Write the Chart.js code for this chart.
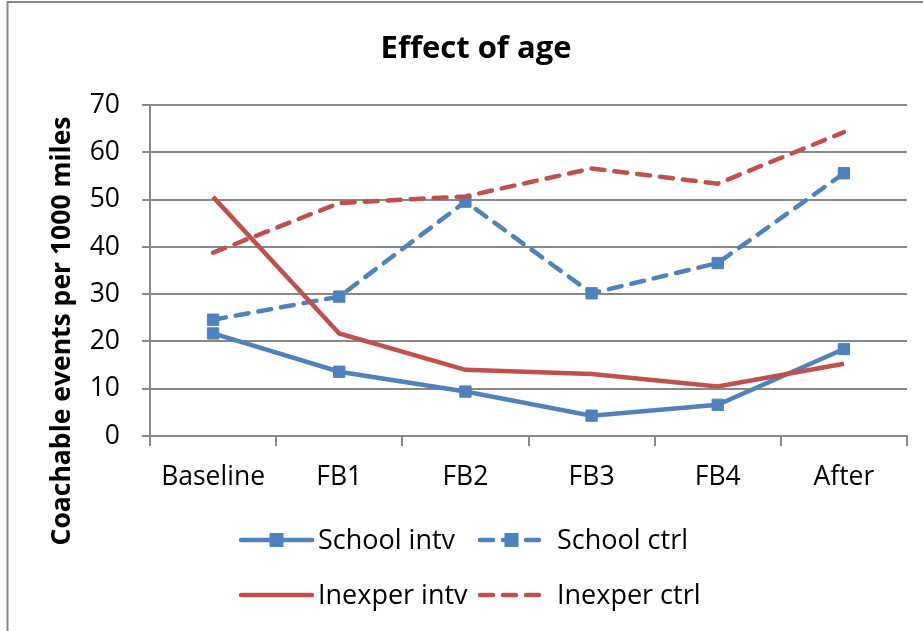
<!DOCTYPE html>
<html lang="en">
<head>
<meta charset="UTF-8">
<title>Effect of age</title>
<script src="https://cdn.jsdelivr.net/npm/chart.js"></script>
<style>
  html, body { margin: 0; padding: 0; background: #fff; }
  canvas { display: block; }
</style>
</head>
<body>
<canvas id="ageChart" width="923" height="631"></canvas>
<script>
  // values (events per 1000 miles)
  const phases = ['Baseline', 'FB1', 'FB2', 'FB3', 'FB4', 'After'];
  const schoolIntv = [21.7, 13.6, 9.4, 4.3, 6.6, 18.4];
  const schoolCtrl = [24.6, 29.5, 49.6, 30.2, 36.6, 55.6];
  const inexperIntv = [50.6, 21.7, 14.0, 13.1, 10.5, 15.3];
  const inexperCtrl = [38.8, 49.3, 50.7, 56.6, 53.4, 64.3];
  const yMin = 0, yMax = 70, yStep = 10;

  const blue = '#4F81BD';
  const red = '#C0504D';
  const gray = '#888888';
  const fontFamily = "'Open Sans', sans-serif";

  Chart.defaults.font.family = fontFamily;
  Chart.defaults.color = '#000';

  // outer frame of the chart object
  const framePlugin = {
    id: 'frame',
    beforeDraw(chart) {
      const ctx = chart.ctx;
      ctx.save();
      ctx.strokeStyle = gray;
      ctx.lineWidth = 2;
      ctx.strokeRect(7.5, 2, 940, 660);
      ctx.restore();
    }
  };

  // vertical axis title, centred like the original (not on the plot only)
  const yTitlePlugin = {
    id: 'yTitle',
    afterDraw(chart) {
      const ctx = chart.ctx;
      ctx.save();
      ctx.translate(62, 331);
      ctx.rotate(-Math.PI / 2);
      ctx.font = 'bold 26.5px ' + fontFamily;
      ctx.fillStyle = '#000';
      ctx.textAlign = 'center';
      ctx.textBaseline = 'middle';
      ctx.fillText('Coachable events per 1000 miles', 0, 0);
      ctx.restore();
    }
  };

  // two-column legend under the axis
  const legendPlugin = {
    id: 'gridLegend',
    afterDraw(chart) {
      const ctx = chart.ctx;
      const cols = [{x0: 241, x1: 312, tx: 318}, {x0: 480, x1: 543, tx: 557}];
      const rows = [540, 595];
      chart.data.datasets.forEach((ds, i) => {
        const c = cols[i % 2];
        const y = rows[Math.floor(i / 2)];
        ctx.save();
        ctx.strokeStyle = ds.borderColor;
        ctx.lineWidth = ds.borderWidth;
        ctx.lineCap = 'round';
        ctx.setLineDash(ds.borderDash || []);
        ctx.beginPath();
        ctx.moveTo(c.x0, y);
        ctx.lineTo(c.x1, y);
        ctx.stroke();
        ctx.setLineDash([]);
        if (ds.pointRadius > 0) {
          ctx.fillStyle = ds.borderColor;
          ctx.fillRect((c.x0 + c.x1) / 2 - 7, y - 7, 14, 14);
        }
        ctx.fillStyle = '#000';
        ctx.font = '27px ' + fontFamily;
        ctx.textAlign = 'left';
        ctx.textBaseline = 'alphabetic';
        ctx.fillText(ds.label, c.tx, y + 9);
        ctx.restore();
      });
    }
  };

  new Chart(document.getElementById('ageChart'), {
    type: 'line',
    data: {
      labels: phases,
      datasets: [
        {
          label: 'School intv',
          data: schoolIntv,
          borderColor: blue,
          backgroundColor: blue,
          borderWidth: 4.5,
          pointStyle: 'rect',
          pointRadius: 8,
          pointBorderWidth: 1,
          order: 3
        },
        {
          label: 'School ctrl',
          data: schoolCtrl,
          borderColor: blue,
          backgroundColor: blue,
          borderWidth: 4.5,
          borderDash: [13, 10],
          borderCapStyle: 'round',
          pointStyle: 'rect',
          pointRadius: 8,
          pointBorderWidth: 1,
          order: 2
        },
        {
          label: 'Inexper intv',
          data: inexperIntv,
          borderColor: red,
          backgroundColor: red,
          borderWidth: 4.5,
          pointRadius: 0,
          order: 1
        },
        {
          label: 'Inexper ctrl',
          data: inexperCtrl,
          borderColor: red,
          backgroundColor: red,
          borderWidth: 4.5,
          borderDash: [13, 10],
          borderCapStyle: 'round',
          pointRadius: 0,
          order: 0
        }
      ]
    },
    options: {
      responsive: false,
      animation: false,
      layout: { padding: { left: 45, right: 16, top: 0, bottom: 0 } },
      plugins: {
        legend: { display: false },
        tooltip: { enabled: false },
        title: {
          display: true,
          text: 'Effect of age',
          color: '#000',
          font: { size: 31, weight: 'bold' },
          padding: { top: 31, bottom: 37 }
        }
      },
      scales: {
        x: {
          offset: true,
          afterFit(scale) { scale.height = 195; },
          grid: {
            offset: true,
            drawOnChartArea: false,
            drawTicks: true,
            tickLength: 10,
            color: gray,
            lineWidth: 2
          },
          border: { display: true, color: gray, width: 2 },
          ticks: { font: { size: 26.5 }, padding: 16, color: '#000', maxRotation: 0 }
        },
        y: {
          min: yMin,
          max: yMax,
          afterFit(scale) { scale.width = 105; },
          grid: {
            color: gray,
            lineWidth: 2,
            drawTicks: true,
            tickLength: 8
          },
          border: { display: true, color: gray, width: 2 },
          ticks: { stepSize: yStep, font: { size: 26.5 }, padding: 22, color: '#000' }
        }
      }
    },
    plugins: [framePlugin, yTitlePlugin, legendPlugin]
  });
</script>
</body>
</html>
